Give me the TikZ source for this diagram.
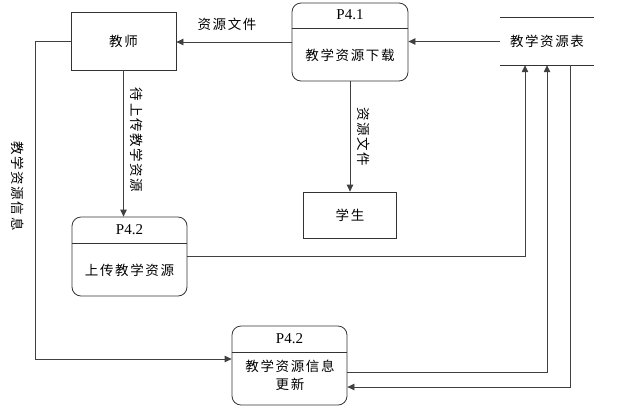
\documentclass[tikz,border=0pt]{standalone}
\usepackage{fontspec}
\setmainfont{Liberation Serif}
\newfontfamily\cjk[LetterSpace=12]{Noto Sans CJK SC}
\usepackage{tikz}
\usetikzlibrary{shapes, arrows.meta, positioning}

\begin{document}
\begin{tikzpicture}[x=1pt, y=-1pt, font=\cjk\fontsize{13.5}{18}\selectfont]
        % Styles
        \tikzstyle{entity} = [draw=black!80, line width=0.8pt, rectangle, inner sep=0pt]
        \tikzstyle{proc} = [draw=black!80, line width=0.8pt, rectangle, rounded corners=9pt, minimum width=115pt, minimum height=79pt, inner sep=0pt]
        \tikzstyle{pid} = [font=\fontsize{15}{17}\selectfont]
        \tikzstyle{flow} = [-{Triangle[length=7pt,width=6.5pt]}, draw=black!75, line width=0.8pt]
        \tikzstyle{vlabel} = [rotate=-90]

        \useasboundingbox (0,0) rectangle (617,408);

        % Nodes
        \node [entity, minimum width=105pt, minimum height=58pt] (teacher) at (123.5,41) {教师};
        \node [proc, minimum width=116pt, minimum height=78pt] (download) at (350,42) {};
        \node [pid] (downloadid) at (350,15) {P4.1};
        \node (downloadtxt) at (350,55) {教学资源下载};
        \node [minimum width=94pt, minimum height=47pt, inner sep=0pt] (store) at (547,41.5) {教学资源表};
        \node [entity, minimum width=93pt, minimum height=46pt] (student) at (350,215) {学生};
        \node [proc] (upload) at (129.5,256.5) {};
        \node [pid] (uploadid) at (129.5,230) {P4.2};
        \node (uploadtxt) at (129.5,270) {上传教学资源};
        \node [proc] (update) at (289.5,365.5) {};
        \node [pid] (updateid) at (289.5,339) {P4.2};
        \node [align=center] (updatetxt) at (290,375) {教学资源信息\\更新};

        % Dividers and data store lines
        \draw [black!80, line width=0.8pt] (download.west |- 0,28) -- (download.east |- 0,28);
        \draw [black!80, line width=0.8pt] (upload.west |- 0,243) -- (upload.east |- 0,243);
        \draw [black!80, line width=0.8pt] (update.west |- 0,352) -- (update.east |- 0,352);
        \draw [black!80, line width=0.8pt] (store.north west) -- (store.north east);
        \draw [black!80, line width=0.8pt] (store.south west) -- (store.south east);

        % Arrows
        \draw [flow] (store.west) -- (download.east |- store.west);
        \draw [flow] (download.west) -- (download.west -| teacher.east);
        \draw [flow] (download.south) -- (download.south |- student.north);
        \draw [flow] (teacher.south) -- (teacher.south |- upload.north);
        \draw [flow] (teacher.west) -- ++(-35,0) |- ([yshift=6.5pt]update.west);
        \draw [flow] (upload.east) -| ([xshift=-22pt]store.south);
        \draw [flow] ([yshift=-6.5pt]update.east) -| (store.south);
        \draw [flow] ([xshift=23pt]store.south) |- ([yshift=-21.5pt]update.east);

        % Labels
        \node (lblfile) at (227,24) {资源文件};
        \node [vlabel] (lblpending) at (137,140) {待上传教学资源};
        \node [vlabel] (lblinfo) at (18,186) {教学资源信息};
        \node [vlabel] (lblfile2) at (364,137) {资源文件};
    \end{tikzpicture}
\end{document}
